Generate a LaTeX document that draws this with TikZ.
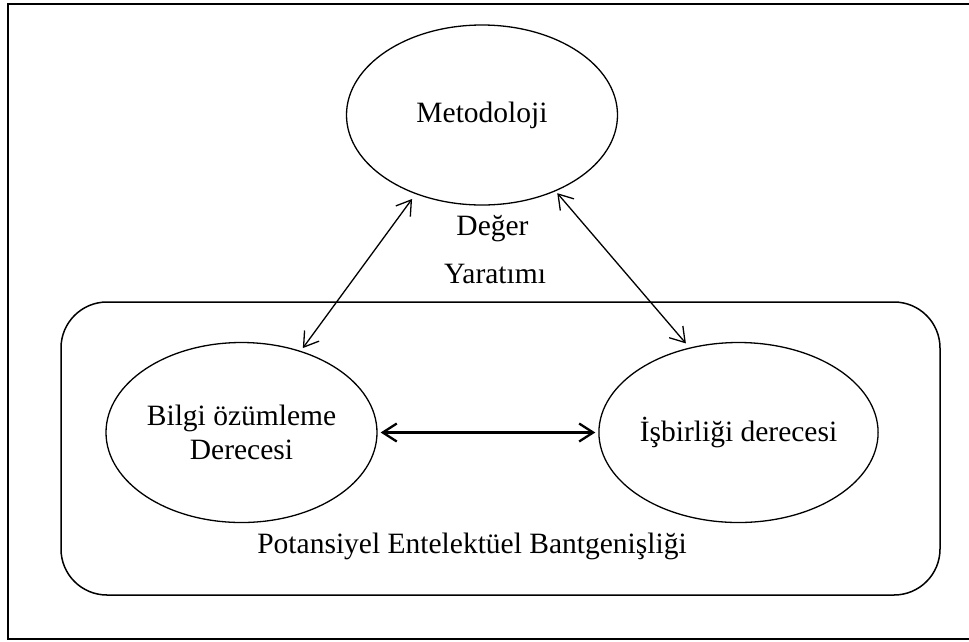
\documentclass[tikz,border=0pt]{standalone}
\usepackage{fontspec}
\setmainfont{Liberation Serif}
\usetikzlibrary{shapes.geometric,arrows.meta}
\begin{document}
\begin{tikzpicture}[x=1pt,y=-1pt,
  txt/.style={font=\fontsize{29.5}{34}\selectfont},
  bubble/.style={ellipse,draw,line width=1.3pt,inner sep=0pt,
    minimum width=271pt,minimum height=180pt,align=center,txt},
  lbl/.style={inner sep=0pt,anchor=base,txt},
  link/.style={line width=1.3pt,{Straight Barb[length=14pt,width=18pt]}-{Straight Barb[length=14pt,width=18pt]}},
  thicklink/.style={line width=2.3pt,{Straight Barb[length=14pt,width=18pt]}-{Straight Barb[length=14pt,width=18pt]}},
]
\useasboundingbox (0,0) rectangle (969,641);
% outer frame
\draw[line width=2pt] (8,4) rectangle (976,639);
% bandwidth region
\draw[line width=1.5pt,rounded corners=46pt] (61,302) rectangle (940,595);

% the three factors
\node[bubble] (meto) at (482,115) {Metodoloji};
\node[bubble] (bilgi) at (241.5,432.5) {Bilgi özümleme\\Derecesi};
\node[bubble] (isb) at (738.5,432.5) {İşbirliği derecesi};

% labels
\node[lbl] (deger) at (492.5,235.7) {Değer};
\node[lbl] (yarat) at (495,283.3) {Yaratımı};
\node[lbl] (bant) at (472,553) {Potansiyel Entelektüel Bantgenişliği};

% relations
\draw[link,shorten <=3.5pt,shorten >=6pt] (bilgi.54) -- (meto.230);
\draw[link,shorten <=2.5pt,shorten >=5.5pt] (meto.314) -- (isb.120);
\draw[thicklink,shorten <=3pt,shorten >=3pt] (bilgi.east) -- (isb.west);
\end{tikzpicture}
\end{document}
